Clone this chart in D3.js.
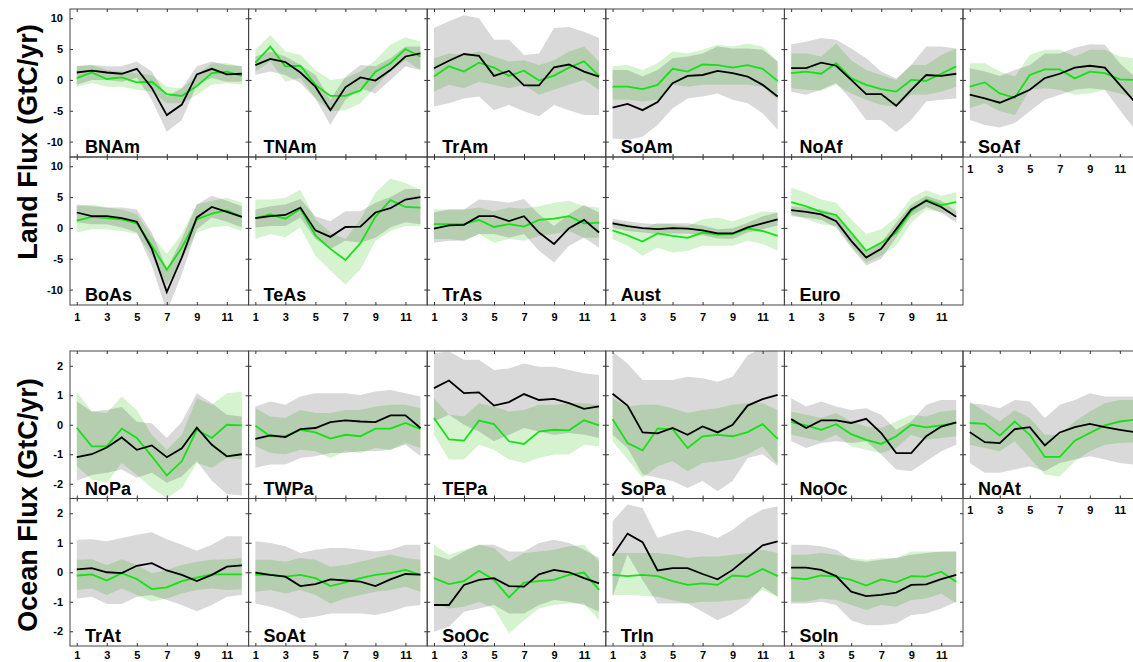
<!DOCTYPE html>
<html>
<head>
<meta charset="utf-8">
<script src="https://d3js.org/d3.v7.min.js"></script>
<style>
  body { margin: 0; background: #fff; }
  svg#chart { display: block; font-family: "Liberation Sans", Arial, sans-serif; font-weight: bold; }
</style>
</head>
<body>
<svg id="chart" width="1133" height="662"></svg>
<script>
// Months on the x axis and the labelled ones
const months = [1, 2, 3, 4, 5, 6, 7, 8, 9, 10, 11, 12];
const monthLabels = [1, 3, 5, 7, 9, 11];

// Region names, in panel order (6 per row)
const landRegions = ["BNAm", "TNAm", "TrAm", "SoAm", "NoAf", "SoAf", "BoAs", "TeAs", "TrAs", "Aust", "Euro"];
const oceanRegions = ["NoPa", "TWPa", "TEPa", "SoPa", "NoOc", "NoAt", "TrAt", "SoAt", "SoOc", "TrIn", "SoIn"];

const landTicks = [-10, -5, 0, 5, 10];
const oceanTicks = [-2, -1, 0, 1, 2];

// Land: black line (and grey band), green line (and green band), GtC/yr
const landBlack = [
    [1.2, 1.5, 1.2, 1.0, 1.8, -1.3, -5.7, -4.0, 0.9, 1.8, 0.9, 1.0],
    [2.4, 3.4, 2.9, 1.2, -1.1, -4.9, -1.2, 0.4, -0.1, 1.6, 3.8, 4.3],
    [1.9, 3.1, 4.2, 3.9, 0.65, 1.45, -0.9, -0.9, 2.05, 2.5, 1.35, 0.55],
    [-4.5, -3.9, -4.9, -3.6, -0.55, 0.65, 0.8, 1.45, 1.1, 0.55, -0.8, -2.7],
    [1.9, 1.9, 2.8, 2.3, 0.0, -2.3, -2.3, -4.2, -1.6, 0.8, 0.65, 1.0],
    [-2.4, -3.0, -3.7, -2.7, -1.6, 0.3, 1.0, 2.0, 2.3, 2.0, -0.8, -3.6],
    [2.5, 1.9, 1.9, 1.6, 1.0, -3.4, -10.4, -4.8, 1.7, 3.4, 2.6, 1.8],
    [1.6, 1.9, 2.1, 3.3, -0.4, -1.45, 0.15, 0.2, 2.5, 3.2, 4.6, 5.0],
    [-0.1, 0.4, 0.5, 1.9, 1.9, 1.1, 1.9, -0.75, -2.6, -0.05, 1.3, -0.75],
    [0.75, 0.3, -0.05, -0.2, -0.05, -0.1, -0.4, -0.9, -0.9, 0.1, 0.75, 1.4],
    [2.9, 2.6, 2.2, 1.1, -2.1, -4.8, -3.4, -0.2, 3.0, 4.4, 3.4, 1.8]
];
const landBlackLo = [
    [-0.8, 0.0, 0.0, -0.3, 0.3, -3.2, -8.4, -6.5, -0.8, 0.3, -0.3, -0.3],
    [0.8, 1.35, 0.8, -0.5, -3.0, -7.3, -3.2, -1.35, -2.2, 0.0, 2.2, 1.6],
    [-4.3, -3.8, -3.0, -2.7, -4.9, -4.05, -5.1, -5.9, -4.05, -4.9, -5.7, -5.7],
    [-9.5, -9.7, -9.2, -7.3, -4.6, -3.0, -2.7, -2.2, -3.2, -3.8, -5.4, -8.1],
    [-1.9, -2.4, -1.6, -0.5, -3.2, -6.5, -6.5, -8.5, -6.5, -3.5, -3.2, -3.0],
    [-6.5, -7.3, -7.7, -7.0, -5.1, -3.2, -2.4, -1.6, -1.35, -1.6, -4.9, -8.0],
    [0.9, 0.6, 0.6, 0.05, -0.75, -6.1, -13.6, -7.5, -0.2, 1.7, 1.0, 0.05],
    [0.05, 0.3, 0.3, 1.7, -1.8, -3.4, -2.1, -2.4, -1.6, 0.05, 0.9, 0.6],
    [-2.4, -2.1, -2.1, -1.0, -1.0, -1.6, -1.0, -3.7, -5.6, -2.9, -1.6, -3.2],
    [0.05, -0.5, -0.75, -1.0, -0.9, -0.9, -1.2, -1.7, -1.8, -0.75, -0.2, 0.4],
    [1.9, 1.7, 1.3, 0.05, -3.2, -6.1, -5.0, -1.5, 1.9, 3.4, 2.5, 0.85]
];
const landBlackHi = [
    [2.2, 2.4, 2.2, 2.2, 3.0, 1.35, -2.7, -1.35, 2.2, 3.0, 2.4, 2.2],
    [3.8, 4.6, 3.8, 2.4, 0.8, -3.2, 0.5, 2.4, 2.2, 3.5, 5.4, 5.4],
    [8.4, 9.5, 10.5, 10.0, 6.5, 6.5, 4.05, 4.3, 8.4, 8.6, 7.8, 6.8],
    [1.6, 1.6, 0.55, 1.6, 3.5, 3.8, 4.3, 5.4, 5.1, 5.1, 4.9, 3.0],
    [5.8, 6.2, 6.8, 6.5, 5.1, 3.5, 1.35, 0.25, 2.4, 5.4, 5.4, 5.1],
    [1.9, 1.35, 0.65, 1.6, 2.4, 4.3, 4.3, 5.2, 5.8, 5.7, 2.7, 0.5],
    [3.8, 3.5, 3.3, 3.3, 3.0, -0.75, -6.7, -1.8, 3.8, 5.2, 4.4, 3.5],
    [3.0, 3.5, 3.8, 4.7, 1.9, 1.1, 2.7, 2.7, 4.1, 5.0, 6.3, 6.3],
    [2.5, 3.0, 3.0, 4.6, 4.4, 4.1, 4.7, 2.2, 0.3, 2.2, 3.7, 2.5],
    [1.5, 1.1, 0.75, 0.6, 0.75, 0.75, 0.4, -0.2, -0.05, 0.85, 1.9, 2.5],
    [3.5, 3.3, 3.0, 2.2, -1.0, -3.7, -2.4, 0.85, 3.8, 5.2, 4.4, 2.7]
];
const landGreen = [
    [0.3, 1.2, 0.15, 0.4, -0.4, -0.3, -2.3, -2.6, -1.0, 1.1, 1.35, 0.65],
    [2.8, 5.4, 2.2, 2.3, -0.8, -2.6, -2.6, -1.7, 1.35, 2.7, 5.0, 3.8],
    [0.55, 2.2, 1.35, 2.8, 2.0, 0.65, 1.5, -0.1, 0.7, 2.0, 3.0, 0.65],
    [-1.1, -1.1, -1.5, -0.8, 1.8, 1.35, 2.5, 2.4, 2.0, 2.4, 1.8, -0.15],
    [1.1, 1.35, 1.0, 2.7, 0.25, -0.8, -1.5, -1.9, 0.0, -0.15, 1.0, 2.2],
    [-1.1, -0.4, -2.2, -2.9, 0.8, 1.7, 1.7, 0.25, 1.35, 1.1, 0.1, 0.0],
    [1.2, 1.8, 1.6, 1.4, 0.75, -2.9, -6.8, -3.2, 1.4, 2.3, 2.85, 1.8],
    [1.6, 2.2, 1.5, 3.1, -1.2, -3.4, -5.2, -2.5, 1.8, 4.5, 3.4, 3.3],
    [0.6, 0.6, 0.6, 1.3, 0.15, 0.6, 0.2, 1.3, 1.5, 1.9, 0.75, 0.85],
    [-0.4, -1.2, -2.2, -0.9, -1.3, -1.6, -0.75, -1.1, -1.0, -0.1, -0.5, -1.3],
    [4.2, 3.5, 2.6, 2.1, -0.75, -3.7, -2.4, -0.75, 2.7, 4.6, 3.7, 4.2]
];
const landGreenLo = [
    [-1.1, -0.5, -1.1, -1.1, -1.6, -1.9, -3.8, -3.8, -2.4, -0.8, -0.5, -0.8],
    [1.35, 3.0, -0.3, 0.3, -3.0, -5.1, -4.9, -3.8, -1.1, 1.35, 3.2, 1.6],
    [-1.9, -0.8, -1.35, -0.3, -0.8, -1.35, -0.8, -2.4, -1.6, -0.8, 0.0, -1.6],
    [-3.2, -3.2, -3.5, -3.2, -0.8, -1.1, -0.8, -0.8, -0.8, -0.8, -1.1, -3.2],
    [-1.35, -1.6, -1.7, -0.8, -2.2, -3.2, -4.05, -4.3, -2.4, -2.4, -1.9, -1.1],
    [-4.6, -3.8, -5.1, -5.7, -1.6, -1.35, -1.6, -2.4, -2.2, -1.6, -2.2, -3.0],
    [-0.75, -0.2, -0.2, -0.5, -1.0, -4.5, -9.3, -5.0, -0.75, 0.05, 0.3, -0.5],
    [-1.8, -1.0, -1.5, 0.05, -4.5, -6.9, -9.2, -6.7, -2.1, -0.5, 0.3, 0.3],
    [-1.8, -1.8, -2.1, -1.0, -2.4, -1.8, -2.1, -1.3, -1.0, -0.5, -1.6, -1.6],
    [-1.8, -2.9, -4.5, -3.2, -4.0, -3.7, -2.9, -2.9, -2.9, -2.1, -2.6, -3.7],
    [2.2, 1.4, 0.6, 0.3, -2.9, -5.6, -4.5, -2.9, 0.85, 3.0, 2.5, 2.2]
];
const landGreenHi = [
    [2.3, 2.4, 1.6, 1.35, 1.1, 0.8, -1.1, -1.35, 0.8, 2.7, 2.7, 2.2],
    [4.9, 7.3, 4.6, 4.1, 1.6, 0.0, 0.3, 1.35, 3.2, 5.7, 6.9, 6.2],
    [3.5, 4.3, 4.05, 4.6, 3.8, 3.0, 3.2, 2.4, 3.2, 4.6, 5.4, 3.0],
    [2.2, 2.4, 1.6, 2.7, 4.6, 4.3, 4.9, 5.7, 5.4, 5.9, 5.4, 3.0],
    [4.3, 4.3, 3.8, 5.9, 3.2, 1.6, 0.8, 0.0, 2.4, 2.4, 4.05, 5.1],
    [2.7, 2.7, 1.35, 0.55, 4.05, 4.9, 4.9, 3.8, 4.9, 4.9, 3.8, 3.5],
    [3.5, 3.8, 3.3, 3.0, 2.2, -1.3, -4.2, -1.0, 3.8, 4.4, 4.9, 4.1],
    [4.6, 4.6, 4.9, 6.2, 1.4, -0.75, -1.8, 1.4, 5.7, 8.0, 7.3, 6.2],
    [3.0, 3.0, 3.0, 3.3, 2.7, 3.3, 3.1, 3.5, 4.1, 4.4, 3.5, 3.3],
    [1.1, 0.6, -0.2, 0.85, 0.6, 0.3, 1.4, 1.7, 1.1, 1.9, 2.7, 2.5],
    [6.5, 5.7, 4.6, 4.1, 1.4, -1.0, -0.2, 1.7, 4.9, 6.1, 5.2, 5.8]
];

// Ocean: same four kinds of series
const oceanBlack = [
    [-1.1, -1.0, -0.77, -0.43, -0.85, -0.7, -1.1, -0.8, -0.1, -0.68, -1.07, -1.0],
    [-0.48, -0.36, -0.42, -0.15, -0.11, 0.09, 0.15, 0.11, 0.09, 0.32, 0.32, -0.11],
    [1.24, 1.5, 1.07, 1.1, 0.65, 0.77, 1.04, 0.84, 0.88, 0.73, 0.54, 0.62],
    [1.05, 0.65, -0.26, -0.29, -0.11, -0.34, -0.06, -0.26, 0.0, 0.65, 0.87, 1.01],
    [0.19, -0.11, 0.15, 0.15, 0.06, 0.2, -0.28, -0.96, -0.96, -0.39, -0.06, 0.08],
    [-0.25, -0.59, -0.62, -0.15, -0.08, -0.7, -0.26, -0.08, 0.03, -0.08, -0.17, -0.25],
    [0.1, 0.14, 0.0, -0.03, 0.22, 0.31, 0.06, -0.09, -0.3, -0.09, 0.19, 0.23],
    [-0.01, -0.09, -0.15, -0.47, -0.4, -0.24, -0.28, -0.32, -0.47, -0.24, -0.06, -0.08],
    [-1.11, -1.11, -0.43, -0.26, -0.2, -0.47, -0.49, -0.07, 0.08, 0.0, -0.2, -0.38],
    [0.56, 1.31, 1.02, 0.06, 0.14, 0.14, -0.06, -0.24, 0.08, 0.5, 0.91, 1.05],
    [0.16, 0.16, 0.08, -0.13, -0.66, -0.81, -0.77, -0.69, -0.43, -0.41, -0.23, -0.09]
];
const oceanBlackLo = [
    [-1.9, -1.7, -1.63, -1.52, -1.8, -1.63, -1.97, -1.75, -1.24, -1.9, -2.35, -2.4],
    [-1.46, -1.35, -1.35, -1.13, -1.07, -0.96, -0.96, -0.9, -0.9, -0.85, -0.68, -1.07],
    [0.11, 0.34, 0.0, -0.23, -0.56, -0.34, -0.11, -0.23, -0.34, -0.28, -0.34, -0.45],
    [-0.34, -0.79, -1.69, -1.8, -1.91, -2.14, -1.91, -2.25, -1.91, -1.13, -1.0, -1.4],
    [-0.56, -0.79, -0.62, -0.56, -0.62, -0.56, -1.01, -1.52, -1.58, -1.24, -0.9, -0.68],
    [-1.3, -1.63, -1.63, -1.52, -1.41, -1.58, -1.3, -1.18, -1.07, -1.18, -1.3, -1.35],
    [-0.89, -0.83, -1.08, -1.08, -0.83, -0.77, -0.94, -1.11, -1.32, -1.11, -0.83, -0.77],
    [-1.06, -1.17, -1.34, -1.57, -1.51, -1.4, -1.4, -1.4, -1.45, -1.34, -1.17, -1.11],
    [-2.02, -1.85, -1.34, -1.23, -1.11, -1.4, -1.4, -1.11, -0.94, -1.0, -1.11, -1.34],
    [-0.83, 0.6, -0.26, -1.06, -1.06, -1.06, -1.34, -1.63, -1.4, -1.06, -0.49, -0.83],
    [-1.06, -1.06, -1.0, -1.11, -1.63, -1.8, -1.8, -1.74, -1.45, -1.4, -1.23, -1.0]
];
const oceanBlackHi = [
    [0.8, 0.45, 0.5, 0.6, 0.1, 0.05, -0.45, 0.1, 1.07, 0.73, 0.34, 0.28],
    [0.62, 0.79, 0.68, 0.96, 1.07, 1.07, 1.07, 1.01, 1.13, 1.18, 1.07, 0.96],
    [2.42, 2.48, 2.2, 2.2, 1.86, 1.91, 2.08, 1.97, 1.97, 1.86, 1.75, 1.69],
    [2.48, 2.08, 1.52, 1.52, 1.52, 1.63, 1.58, 1.46, 1.63, 2.36, 2.6, 2.7],
    [0.9, 0.62, 0.79, 0.62, 0.5, 0.56, 0.34, -0.17, 0.11, 0.68, 0.84, 0.84],
    [0.73, 0.68, 0.56, 0.84, 0.79, 0.23, 0.68, 0.84, 1.07, 0.96, 0.96, 0.96],
    [1.1, 1.12, 1.05, 1.16, 1.27, 1.36, 1.12, 0.93, 0.73, 0.93, 1.22, 1.22],
    [1.05, 0.99, 0.88, 0.65, 0.76, 0.82, 0.82, 0.76, 0.7, 0.76, 0.93, 0.93],
    [0.59, 0.42, 0.7, 0.93, 0.93, 0.7, 0.7, 0.99, 1.1, 0.99, 0.76, 0.48],
    [1.73, 2.3, 2.18, 1.16, 1.33, 1.44, 1.33, 1.16, 1.44, 1.84, 2.13, 2.24],
    [0.93, 0.93, 0.88, 0.76, 0.42, 0.36, 0.42, 0.48, 0.59, 0.65, 0.7, 0.7]
];
const oceanGreen = [
    [-0.1, -0.73, -0.73, -0.13, -0.45, -1.07, -1.72, -1.24, -0.17, -0.45, 0.0, -0.02],
    [-0.03, -0.39, -0.39, -0.17, -0.26, -0.47, -0.34, -0.39, -0.13, -0.13, 0.06, -0.15],
    [0.23, -0.5, -0.54, 0.14, 0.02, -0.56, -0.65, -0.23, -0.17, -0.19, 0.15, -0.02],
    [0.19, -0.62, -0.87, -0.13, -0.15, -0.79, -0.39, -0.34, -0.39, -0.25, 0.02, -0.48],
    [0.09, -0.02, -0.17, 0.02, -0.32, -0.51, -0.65, -0.39, 0.0, -0.09, -0.02, 0.06],
    [0.06, 0.03, -0.37, 0.11, -0.34, -1.09, -1.09, -0.54, -0.28, -0.02, 0.11, 0.17],
    [-0.11, -0.07, -0.28, -0.03, -0.23, -0.57, -0.51, -0.3, -0.18, -0.07, -0.07, -0.07],
    [-0.09, -0.09, -0.15, -0.09, -0.2, -0.47, -0.34, -0.2, -0.09, -0.03, 0.08, -0.09],
    [-0.2, -0.4, -0.3, 0.05, -0.26, -0.85, -0.35, -0.3, -0.26, -0.09, -0.01, -0.6],
    [-0.09, -0.13, -0.09, -0.13, -0.3, -0.43, -0.38, -0.43, -0.11, -0.15, 0.11, -0.13],
    [-0.2, -0.23, -0.11, -0.15, -0.26, -0.45, -0.24, -0.34, -0.13, -0.15, 0.02, -0.32]
];
const oceanGreenLo = [
    [-1.4, -1.86, -1.97, -1.3, -1.7, -2.14, -2.48, -2.14, -1.3, -1.46, -1.13, -1.18],
    [-0.73, -0.96, -1.0, -0.85, -0.9, -1.13, -0.9, -0.96, -0.79, -0.85, -0.62, -0.79],
    [-0.34, -1.18, -1.18, -0.68, -0.85, -1.18, -1.3, -1.13, -1.01, -1.01, -0.68, -0.73],
    [-0.56, -1.18, -1.8, -1.41, -1.24, -1.58, -1.3, -1.24, -1.18, -1.01, -0.73, -1.35],
    [-0.34, -0.45, -0.56, -0.34, -0.73, -0.85, -0.96, -0.79, -0.34, -0.51, -0.45, -0.39],
    [-0.68, -0.79, -0.9, -0.56, -1.13, -1.69, -1.75, -1.24, -0.9, -0.68, -0.62, -0.6],
    [-0.6, -0.55, -0.77, -0.55, -0.77, -1.0, -0.89, -0.72, -0.6, -0.55, -0.6, -0.58],
    [-0.66, -0.6, -0.72, -0.6, -0.77, -1.06, -0.89, -0.77, -0.66, -0.6, -0.49, -0.66],
    [-1.06, -1.23, -1.17, -1.0, -1.23, -2.08, -1.63, -1.23, -1.11, -1.06, -1.06, -1.63],
    [-0.77, -0.77, -0.8, -0.83, -0.95, -1.06, -1.0, -1.0, -0.95, -0.9, -0.6, -0.83],
    [-1.0, -1.0, -0.89, -0.94, -1.11, -1.28, -1.11, -1.17, -0.94, -0.89, -0.72, -1.06]
];
const oceanGreenHi = [
    [1.12, 0.45, 0.4, 0.96, 0.5, -0.34, -0.85, -0.34, 0.9, 0.68, 1.07, 1.12],
    [0.56, 0.28, 0.23, 0.5, 0.4, 0.4, 0.5, 0.5, 0.62, 0.68, 0.68, 0.56],
    [0.9, 0.34, 0.28, 0.73, 0.62, 0.45, 0.5, 0.68, 0.68, 0.73, 0.73, 0.68],
    [0.9, 0.62, 0.68, 0.68, 0.56, 0.4, 0.5, 0.56, 0.68, 0.73, 0.73, 0.5],
    [0.45, 0.34, 0.23, 0.4, 0.11, -0.06, -0.11, 0.11, 0.34, 0.28, 0.45, 0.5],
    [0.79, 0.45, 0.11, 0.5, 0.23, -0.34, -0.34, 0.11, 0.45, 0.73, 0.84, 0.84],
    [0.42, 0.44, 0.25, 0.44, 0.25, -0.03, 0.08, 0.25, 0.36, 0.42, 0.44, 0.48],
    [0.42, 0.42, 0.36, 0.48, 0.42, 0.19, 0.25, 0.36, 0.48, 0.6, 0.48, 0.42],
    [0.93, 0.59, 0.76, 0.93, 0.82, 0.36, 0.65, 0.7, 0.76, 0.88, 0.93, 0.36],
    [0.65, 0.65, 0.65, 0.65, 0.59, 0.48, 0.53, 0.53, 0.59, 0.65, 0.76, 0.65],
    [0.59, 0.59, 0.65, 0.59, 0.48, 0.42, 0.48, 0.48, 0.7, 0.7, 0.7, 0.7]
];
</script>

<script>
    // Layout of the panel grid
    const svg = d3.select("#chart");
    const left = 70, colW = 178.6, nCols = 6;

    const sections = [
        { names: landRegions, top: 9, rowH: 148, domain: [-12.5, 11.5], ticks: landTicks,
          title: "Land Flux (GtC/yr)", titleY: 142, labelPad: 8,
          black: landBlack, blackLo: landBlackLo, blackHi: landBlackHi,
          green: landGreen, greenLo: landGreenLo, greenHi: landGreenHi },
        { names: oceanRegions, top: 351, rowH: 147.5, domain: [-2.5, 2.5], ticks: oceanTicks,
          title: "Ocean Flux (GtC/yr)", titleY: 505, labelPad: 5,
          black: oceanBlack, blackLo: oceanBlackLo, blackHi: oceanBlackHi,
          green: oceanGreen, greenLo: oceanGreenLo, greenHi: oceanGreenHi }
    ];

    // Strip d3's default axis styling, keep our font
    function styleAxis(a) {
        a.attr("font-family", null).attr("font-size", 11).attr("color", "#333");
        a.select(".domain").remove();
        a.selectAll("text").attr("fill", "#000");
    }

    sections.forEach((sec, si) => {
        sec.names.forEach((name, i) => {
            const col = i % nCols, row = Math.floor(i / nCols);
            const x0 = left + col * colW, y0 = sec.top + row * sec.rowH;
            const x = d3.scaleLinear().domain([0.55, 12.45]).range([x0, x0 + colW]);
            const y = d3.scaleLinear().domain(sec.domain).range([y0 + sec.rowH, y0]);
            const g = svg.append("g");

            const clipId = "clip" + si + "_" + i;
            g.append("clipPath").attr("id", clipId)
                .append("rect").attr("x", x0).attr("y", y0).attr("width", colW).attr("height", sec.rowH);
            const pg = g.append("g").attr("clip-path", "url(#" + clipId + ")");

            const band = (lo, hi) => d3.area()
                .x((d, k) => x(months[k]))
                .y0((d, k) => y(lo[k]))
                .y1((d, k) => y(hi[k]))(months);
            const line = d3.line().x((d, k) => x(months[k])).y(d => y(d));

            // grey band, then green band multiplied over it
            pg.append("path").attr("d", band(sec.blackLo[i], sec.blackHi[i])).attr("fill", "#d9d9d9");
            pg.append("path").attr("d", band(sec.greenLo[i], sec.greenHi[i]))
                .attr("fill", "#d5f3cf").style("mix-blend-mode", "multiply");

            pg.append("path").attr("d", line(sec.green[i]))
                .attr("fill", "none").attr("stroke", "#16e016").attr("stroke-width", 1.8);
            pg.append("path").attr("d", line(sec.black[i]))
                .attr("fill", "none").attr("stroke", "#000").attr("stroke-width", 1.8);

            // frame
            g.append("rect").attr("x", x0).attr("y", y0).attr("width", colW).attr("height", sec.rowH)
                .attr("fill", "none").attr("stroke", "#444").attr("stroke-width", 1);

            // axes with small inward ticks; month labels only where no panel sits below
            const labelled = (i + nCols) >= sec.names.length;
            const pad = row === 0 ? 8 : sec.labelPad;
            g.append("g").attr("transform", "translate(0," + (y0 + sec.rowH) + ")")
                .call(d3.axisBottom(x).tickValues(monthLabels).tickSizeInner(-3).tickSizeOuter(0)
                    .tickPadding(pad).tickFormat(labelled ? (d => String(d)) : ""))
                .call(styleAxis);
            g.append("g").attr("transform", "translate(0," + y0 + ")")
                .call(d3.axisTop(x).tickValues(monthLabels).tickSizeInner(-3).tickSizeOuter(0).tickFormat(""))
                .call(styleAxis);
            g.append("g").attr("transform", "translate(" + x0 + ",0)")
                .call(d3.axisLeft(y).tickValues(sec.ticks).tickSizeInner(-3).tickSizeOuter(0)
                    .tickPadding(7).tickFormat(col === 0 ? (d => String(d)) : ""))
                .call(styleAxis);
            g.append("g").attr("transform", "translate(" + (x0 + colW) + ",0)")
                .call(d3.axisRight(y).tickValues(sec.ticks).tickSizeInner(-3).tickSizeOuter(0).tickFormat(""))
                .call(styleAxis);

            // region name
            g.append("text").attr("x", x0 + 15).attr("y", y0 + sec.rowH - 4)
                .attr("font-size", 18).text(name);
        });

        // section title
        svg.append("text")
            .attr("transform", "translate(37," + sec.titleY + ") rotate(-90)")
            .attr("text-anchor", "middle").attr("font-size", 27)
            .text(sec.title);
    });
</script>
</body>
</html>
